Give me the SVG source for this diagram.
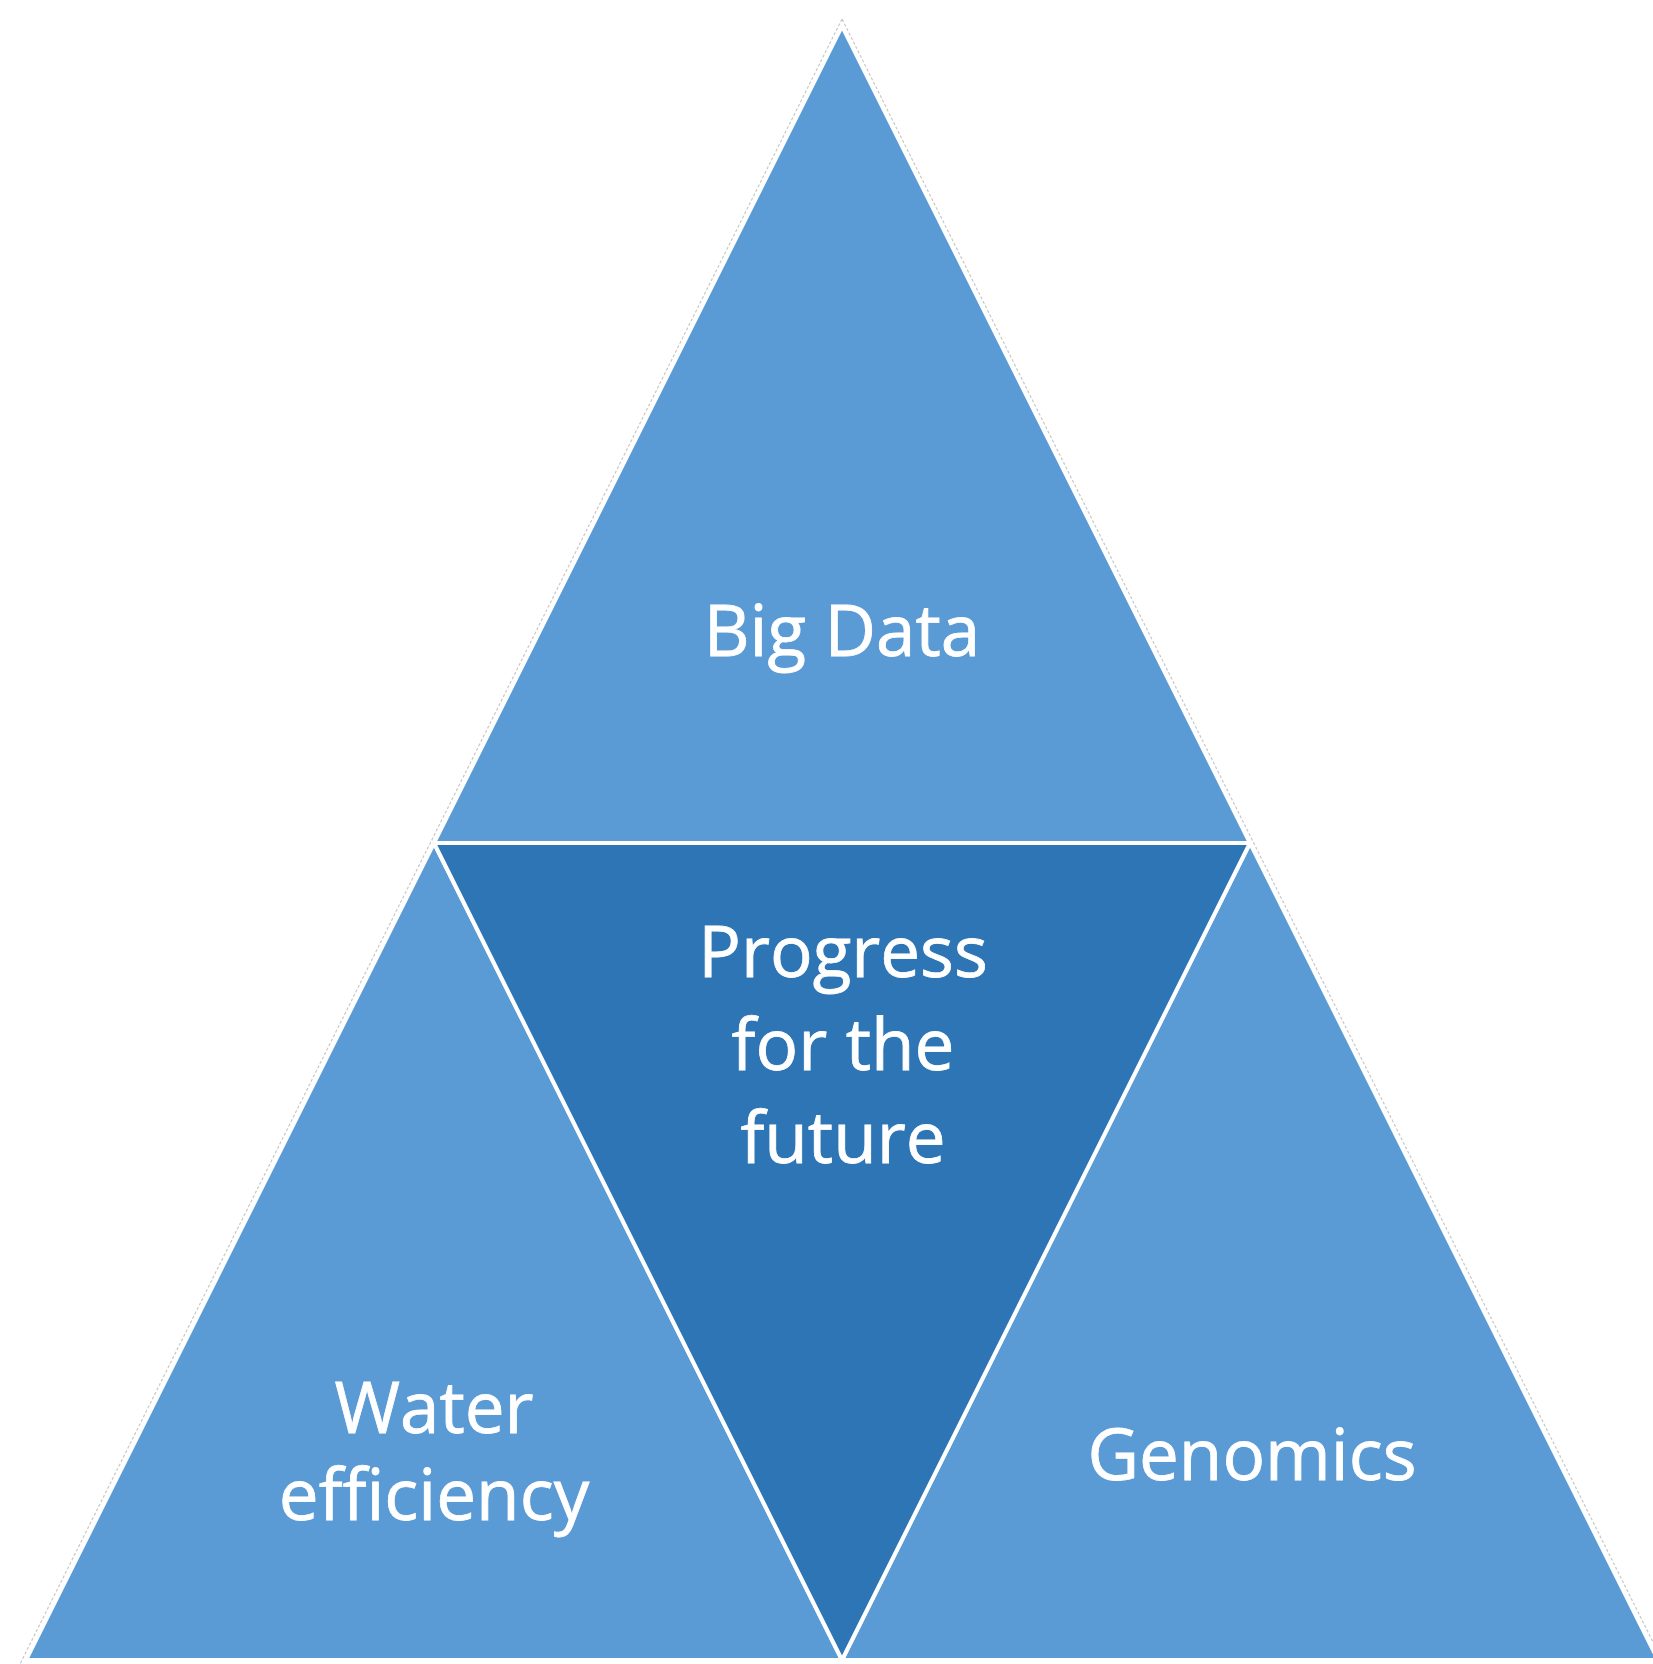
<svg xmlns="http://www.w3.org/2000/svg" width="1653" height="1664" viewBox="0 0 1653 1664">
  <style>
    .tri { stroke: #ffffff; stroke-width: 4; stroke-linejoin: round; }
    .light { fill: #5b9bd5; }
    .dark { fill: #2e75b6; }
    .outline { fill: none; stroke: #c9c9c9; stroke-width: 1.2; stroke-dasharray: 3 2; }
    .label { font-family: "Open Sans", "Noto Sans", "Liberation Sans", sans-serif; font-size: 71px; fill: #ffffff; stroke: #ffffff; stroke-width: 0.8; text-anchor: middle; }
  </style>
  <rect width="1653" height="1664" fill="#ffffff"/>
  <!-- faint outline of the whole pyramid -->
  <polygon class="outline" points="842,19 19,1666 1665,1666"/>
  <g id="big-data">
    <polygon class="tri light" points="842,26 434,843 1250,843"/>
    <text class="label" x="842" y="656">Big Data</text>
  </g>
  <g id="water-efficiency">
    <polygon class="tri light" points="434,843 26,1660 842,1660"/>
    <text class="label" x="434" y="1433">Water</text>
    <text class="label" x="434" y="1520">efficiency</text>
  </g>
  <g id="genomics">
    <polygon class="tri light" points="1250,843 842,1660 1658,1660"/>
    <text class="label" x="1252" y="1480">Genomics</text>
  </g>
  <g id="progress">
    <polygon class="tri dark" points="434,843 1250,843 842,1660"/>
    <text class="label" x="843" y="977">Progress</text>
    <text class="label" x="843" y="1070">for the</text>
    <text class="label" x="843" y="1163">future</text>
  </g>
  <g id="connectors"></g>
</svg>
